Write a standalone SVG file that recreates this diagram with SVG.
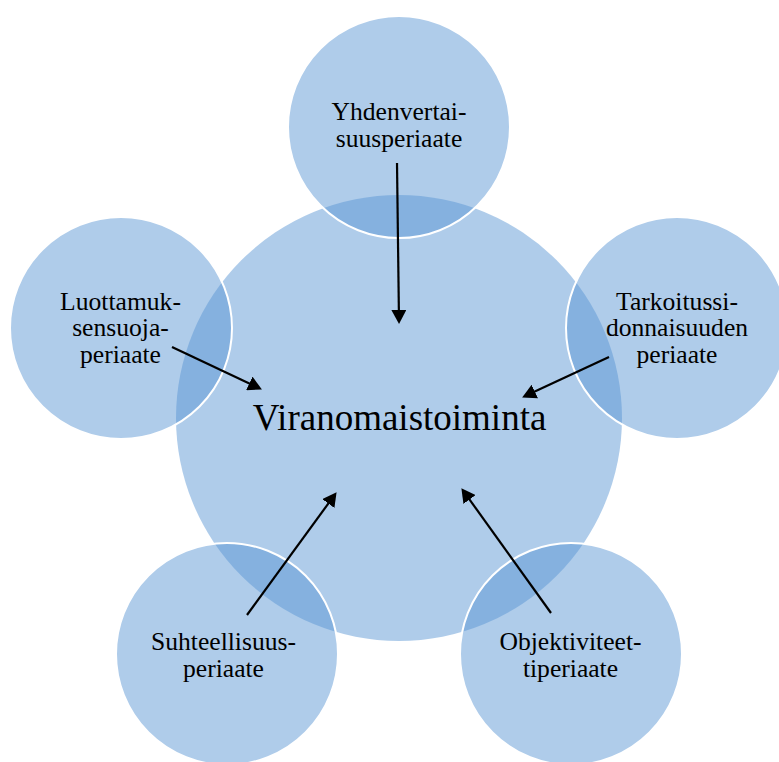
<svg xmlns="http://www.w3.org/2000/svg" width="779" height="762" viewBox="0 0 779 762">
<style>
.c{fill:#5795d3;fill-opacity:0.48}
.s{stroke:#ffffff;stroke-width:2}
.t{font-family:"Liberation Serif","Times New Roman",serif;font-size:25.6px;fill:#000;text-anchor:middle}
.big{font-size:37px}
.a{stroke:#000;stroke-width:2.2;fill:none;marker-end:url(#ah)}
</style>
<defs>
<marker id="ah" markerUnits="userSpaceOnUse" markerWidth="14" markerHeight="15" refX="3" refY="7.5" orient="auto" viewBox="0 0 14 15">
<path d="M0,0 L14,7.5 L0,15 z" fill="#000"/>
</marker>
</defs>
<rect width="779" height="762" fill="#fff"/>
<g id="center">
<circle class="c" cx="399" cy="418" r="223"/>
</g>
<g id="top">
<circle class="c s" cx="399" cy="127" r="111"/>
</g>
<g id="left">
<circle class="c s" cx="121" cy="328" r="111"/>
</g>
<g id="right">
<circle class="c s" cx="677" cy="328" r="111"/>
</g>
<g id="bottom-left">
<circle class="c s" cx="227" cy="654" r="111"/>
</g>
<g id="bottom-right">
<circle class="c s" cx="571" cy="654" r="111"/>
</g>
<g id="connectors">
<line class="a" x1="397" y1="163" x2="398.9" y2="313"/>
<line class="a" x1="172" y1="347" x2="252" y2="384.7"/>
<line class="a" x1="609" y1="357" x2="532.1" y2="392.8"/>
<line class="a" x1="247" y1="615" x2="330.1" y2="501.1"/>
<line class="a" x1="551" y1="613" x2="467.8" y2="497.1"/>
</g>
<g id="labels">
<text class="t big" x="399.5" y="430">Viranomaistoiminta</text>
<text class="t" x="399" y="120">Yhdenvertai-<tspan x="399" y="146.6">suusperiaate</tspan></text>
<text class="t" x="120.5" y="309.5">Luottamuk-<tspan x="120.5" y="336.3">sensuoja-</tspan><tspan x="120.5" y="363">periaate</tspan></text>
<text class="t" x="677" y="309.5">Tarkoitussi-<tspan x="677" y="336.3">donnaisuuden</tspan><tspan x="677" y="363">periaate</tspan></text>
<text class="t" x="223.5" y="650">Suhteellisuus-<tspan x="223.5" y="676.6">periaate</tspan></text>
<text class="t" x="570.5" y="650">Objektiviteet-<tspan x="570.5" y="676.6">tiperiaate</tspan></text>
</g>
</svg>
